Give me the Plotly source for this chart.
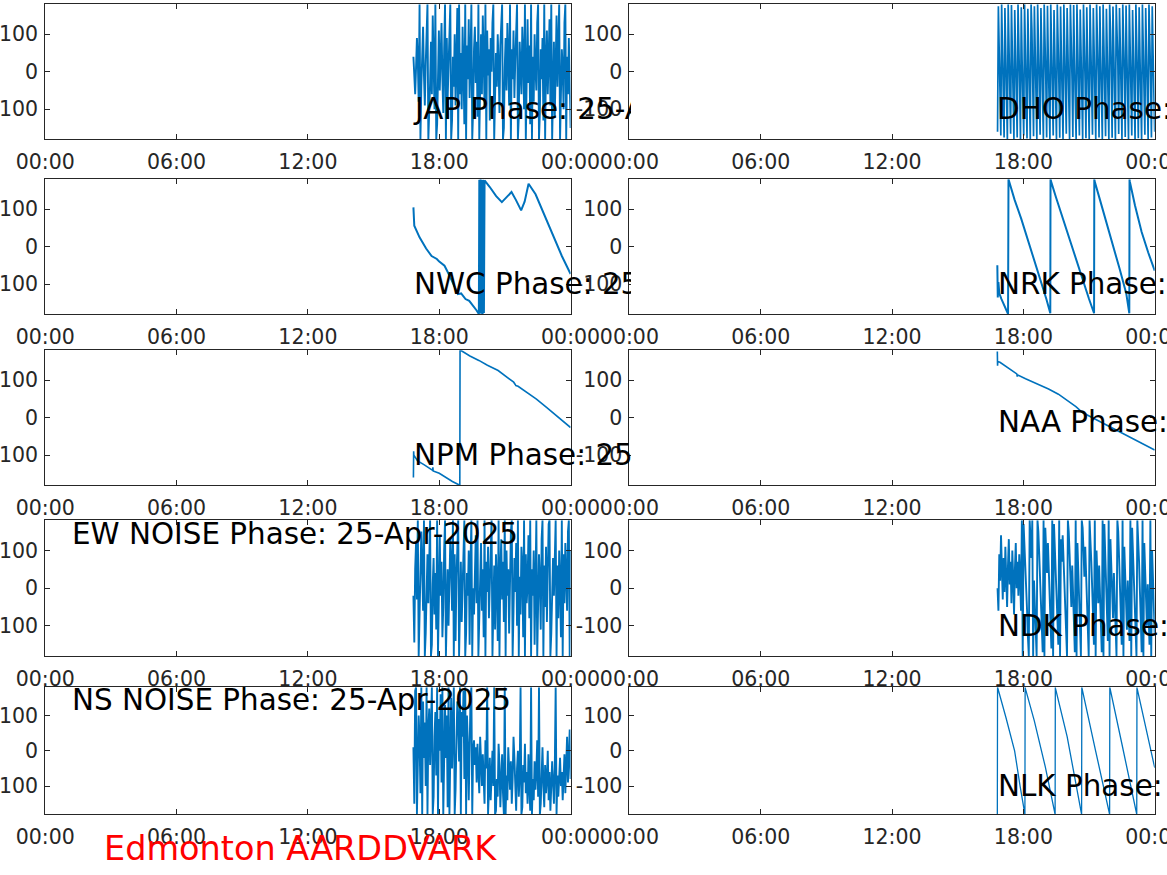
import plotly.graph_objects as go

# ---------------- data ----------------
STATIONS = ["JAP", "DHO", "NWC", "NRK", "NPM", "NAA", "EW NOISE", "NDK", "NS NOISE", "NLK"]
DATE_LABEL = "25-Apr-2025"
FIG_TITLE = "Edmonton AARDDVARK"
TICK_HOURS = [0, 6, 12, 18, 24]
TICK_TEXT = ["00:00", "06:00", "12:00", "18:00", "00:00"]
Y_TICKS = [-100, 0, 100]
Y_RANGE = [-180, 180]
RECORD_START_H = 16.82
RECORD_END_H = 24.0

# noisy phases (regularly sampled between RECORD_START_H and RECORD_END_H)
JAP_PHASE = [
    40, -20, -60, 10, 90, 30, -80, 180, -180, -40,
    60, 120, -10, -90, 20, 140, 180, -180, -120, -30,
    80, -60, 150, 40, -100, 180, -180, -140, 10, 110,
    -50, 70, 130, -20, -110, 60, 180, -180, 90, -70,
    20, 150, 180, -180, -130, 40, -40, 100, -90, 30,
    170, -180, 180, -60, 50, -100, 120, 10, -140, 180,
    -180, 70, -20, 140, -70, 30, 180, -180, -100, 60,
    120, -30, 80, -120, 180, -180, 20, 100, -60, 150,
    40, -90, 180, -180, 110, -10, 60, -130, 90, 0,
    130, 180, -180, -80, 50, -40, 100, 20, -110, 70,
    160, 180, -180, -150, 10, 90, -50, 130, 40, -90,
    180, -180, 60, -20, 110, -70, 30, 150, 180, -180,
    -120, 80, 0, -60, 120, 50, -100, 180, -180, 20,
    140, -30, 70, -140, 180, -180, 40, -80, 100, 10,
    -50, 130, 180, -180, -110, 60, -20, 90, -130, 180,
    -180, 30, 110, -60, 50, 140, -90, 180, -180, -30,
    80, -120, 20, 150, -40, 100, 180, -180, -70, 60,
    10, -100, 130, 180, -180, 40, -60, 90, -20, -150,
]

DHO_PHASE = [
    -160,
    175, 60, -40, -170, 180, 80, -30, -175, 170, 50, -60, -180,
    180, 90, -20, -165, 178, 40, -70, -180, 165, 70, 0, -175,
    180, 100, -40, -180, 172, 30, -55, -170, 180, 85, -10, -178,
    168, 55, -65, -180, 180, 110, -30, -172, 175, 45, -80, -180,
    180, 75, 10, -168, 170, 60, -45, -180, 180, 95, -25, -175,
    176, 35, -60, -180, 180, 80, 5, -170, 165, 50, -50, -180,
    180, 105, -35, -176, 174, 40, -75, -180, 180, 70, 15, -165,
    170, 65, -40, -180, 180, 90, -20, -174, 178, 30, -65, -180,
    180, 85, 0, -170, 166, 55, -55, -180, 180, 100, -30, -177,
    172, 45, -70, -180, 180, 80, 10, -168, 170, 60, -45, -180,
    180, 95, -15, -175, 175, 40, -60, -180, 180, 75, 5, -172,
    168, 50, -50, -180, 180, 110, -25, -176, 174, 35, -80, -180,
    180, 85, 20, -166, 170, 65, -35, -180, 180, 90, -20, -174,
    177, 45, -65, -180, 180, 80, 0, -170, 165, 55, -55, -180,
    180, 100, -30, -177, 172, 40, -70, -180, 180, 70, 10, -168,
    170, 60, -45, -180, 180, 95, -15, -175, 175, 50, -40, -160,
]

EW_NOISE_PHASE = [
    -20, -144, 50, 120, -30, 180, -180, -90, 40, 150,
    60, -60, 180, -180, -120, 20, 90, -40, 130, 180,
    -180, -150, 10, 80, -70, 40, -110, 180, -180, 60,
    140, -20, 70, -130, -50, 100, 180, -180, -30, 50,
    -100, 20, 130, 60, -60, 180, -180, 90, -140, 30,
    110, 180, -180, -40, 70, -90, 10, 150, 180, -180,
    -120, 40, -20, 100, -150, 60, 180, -180, 0, -70,
    80, 140, -40, 180, -180, -100, 30, 120, -60, 50,
    -130, 180, -180, 70, -10, 110, -80, 20, 160, 180,
    -180, -50, 60, -110, 90, 10, -140, 180, -180, 40,
    130, -30, 70, -90, 180, -180, 100, -20, 50, -120,
    20, 150, 180, -180, -60, 80, -10, 120, -100, 180,
    -180, 30, -70, 110, 60, -130, 180, -180, 90, -40,
    10, 140, -80, 180, -180, 50, -20, 100, -150, 70,
    180, -180, -30, 90, 20, -110, 130, 180, -180, 60,
    -50, 110, -90, 40, 170, 180, -180, -120, 30, 80,
    -20, 140, 180, -180, 60, -80, 100, 10, -130, 180,
    -180, 90, -40, 120, 50, -60, 150, 180, -180, 100,
]

NDK_PHASE = [
    0, -60, 90, 20, 140, 50, -30, 80, -10, 110,
    40, -50, 60, 130, 10, 70, -40, 100, 30, -70,
    50, 120, 0, 70, -20, 90, 30, -60, 180, -180,
    170, 120, 60, 0, -60, -130, -180, 180, 140, 80,
    180, -180, 20, -50, -120, -180, 180, 150, 90, 30,
    -40, -110, -170, 180, -180, 160, 100, 40, 120, 60,
    -20, -90, -160, 180, -180, 170, 110, 50, -10, -80,
    -150, 180, -180, 130, 70, 140, 80, 10, -60, -130,
    -180, 180, 150, 90, 20, -50, 60, -10, -90, -170,
    180, -180, 120, 50, -20, -100, -180, 180, 160, 100,
    30, 110, 40, -40, -110, -180, 180, 140, 70, 0,
    -70, -150, 180, -180, 100, 30, -40, 60, -20, -100,
    -170, 180, -180, 170, 100, 20, -60, -140, 180, -180,
    130, 60, -10, -80, 40, -30, -110, -180, 180, 150,
    80, 10, -70, -150, 180, -180, 110, 40, -30, -110,
    20, -60, -140, 180, -180, 160, 90, 20, -50, -130,
    -180, 180, 140, 70, -10, -90, -170, 180, -180, 120,
    50, -20, -100, 10, -70, -150, 180, -180, 100, 30,
    -40, -120,
]

NS_NOISE_PHASE = [
    10, -150, 170, 180, -180, -60, 100, 30, -120, 180,
    -180, 140, -20, 80, -100, 180, -180, 60, 120, -40,
    150, 180, -180, -130, 40, 110, -70, 180, -180, 90,
    0, 160, -90, 180, -180, 50, 130, -20, 100, -160,
    180, -180, 70, 150, -50, 120, 180, -180, -110, 30,
    140, 80, -30, 180, -180, 110, 40, 170, -80, 180,
    -180, 100, 20, -140, 60, 150, 180, -180, 0, 30,
    -40, 10, -90, 20, -60, -120, 40, -30, -100, -10,
    -80, -150, 30, -50, 180, -180, -110, -20, -140, -60,
    0, -100, 180, -180, -170, -80, -130, 20, -40, -160,
    -90, -10, -120, -180, 180, -180, -70, -140, 10, -60,
    -110, -30, -150, -80, 40, -20, -100, -170, -50, 0,
    -130, -70, 180, -180, -160, -40, -90, 20, -120, -60,
    -150, -10, -100, -170, 180, -180, -80, -140, -30, -110,
    -60, 30, -130, 180, -180, -150, -70, 10, -100, -160,
    -40, -120, -80, 0, -140, -60, -170, -100, -30, -90,
    -150, -50, 180, -180, -70, -130, -90, -20, -100, -60,
    -140, -80, -10, -120, -60, 40, -90, 30, 60, -80,
]

# slowly drifting phases (time in hours, phase in degrees)
NWC_T = [16.82, 16.84, 16.86, 17.10, 17.40, 17.65, 17.89, 18.00, 18.10, 18.24,
         18.45, 18.70, 18.85, 19.00, 19.20, 19.37, 19.55, 19.70, 19.81, 19.83,
         19.86, 19.89, 19.92, 19.95, 19.98, 20.01, 20.04, 20.07, 20.30, 20.60,
         20.86, 21.05, 21.30, 21.50, 21.74, 21.90, 22.08, 22.40, 22.80, 23.20,
         23.60, 24.00]
NWC_PHASE = [105, 70, 56, 25, -5, -25, -33, -40, -45, -51,
             -75, -105, -127, -125, -140, -145, -158, -170, -180, 179,
             -178, 180, -179, 178, -180, 179, -177, 177, 160, 135,
             119, 130, 146, 125, 97, 120, 168, 140, 85, 28,
             -25, -73]

NRK_T = [16.81, 16.83, 16.86, 16.90, 17.00, 17.15, 17.30, 17.32, 17.33, 17.60,
         17.90, 18.20, 18.50, 18.80, 19.05, 19.23, 19.24, 19.25, 19.50, 19.80,
         20.10, 20.40, 20.70, 21.00, 21.23, 21.24, 21.25, 21.50, 21.80, 22.10,
         22.40, 22.70, 22.84, 22.85, 22.86, 23.10, 23.40, 23.70, 24.00]
NRK_PHASE = [-50, -136, -95, -125, -140, -160, -180, 180, 178, 125,
             75, 20, -35, -90, -140, -178, 180, 177, 130, 75,
             20, -35, -90, -140, -178, 180, 176, 125, 65, 5,
             -60, -125, -178, 180, 175, 110, 40, -15, -64]

NPM_T = [16.82, 16.83, 16.84, 16.90, 17.01, 17.30, 17.60, 17.70, 17.71, 17.72,
         18.00, 18.30, 18.60, 18.94, 18.95, 19.03, 19.40, 19.81, 20.20, 20.69,
         21.10, 21.40, 21.47, 21.50, 21.60, 22.00, 22.44, 22.90, 23.40, 24.00]
NPM_PHASE = [-159, -89, -100, -105, -115, -125, -137, -140, -132, -142,
             -148, -160, -170, -180, 180, 178, 165, 153, 140, 126,
             108, 95, 89, 86, 84, 68, 50, 28, 4, -26]

NAA_T = [16.81, 16.82, 16.83, 16.93, 17.30, 17.70, 17.72, 17.75, 18.10, 18.47,
         19.15, 19.60, 20.01, 20.40, 20.70, 21.20, 21.72, 22.20, 22.75, 23.30,
         23.95, 24.00]
NAA_PHASE = [177, 139, 150, 148, 132, 117, 110, 114, 104, 95,
             77, 63, 46, 30, 14, -1, -17, -32, -48, -64,
             -84, -86]

NLK_T = [16.81, 16.82, 16.83, 17.20, 17.60, 17.85, 18.07, 18.08, 18.09, 18.50,
         19.00, 19.45, 19.46, 19.47, 20.00, 20.66, 20.67, 20.68, 21.30, 21.94,
         21.95, 21.96, 22.50, 23.18, 23.19, 23.20, 24.00]
NLK_PHASE = [-180, 180, 178, 95, 0, -100, -180, 180, 177, 85,
             -45, -180, 180, 176, 40, -180, 180, 177, 0, -180,
             180, 177, 20, -180, 180, 176, -48]


def sampled(vals):
    n = len(vals)
    step = (RECORD_END_H - RECORD_START_H) / (n - 1)
    return [RECORD_START_H + i * step for i in range(n)], vals


SERIES = {
    "JAP": sampled(JAP_PHASE),
    "DHO": sampled(DHO_PHASE),
    "NWC": (NWC_T, NWC_PHASE),
    "NRK": (NRK_T, NRK_PHASE),
    "NPM": (NPM_T, NPM_PHASE),
    "NAA": (NAA_T, NAA_PHASE),
    "EW NOISE": sampled(EW_NOISE_PHASE),
    "NDK": sampled(NDK_PHASE),
    "NS NOISE": sampled(NS_NOISE_PHASE),
    "NLK": (NLK_T, NLK_PHASE),
}

# ---------------- layout / style ----------------
W, H = 1167, 875
BLUE = "#0072BD"
AXC = "#262626"
FONT = "DejaVu Sans"

COL_PX = [(45.2, 570.6), (629.4, 1154.7)]
ROW_PX = [(4.3, 139.3), (179.3, 314.0), (350.3, 485.3), (520.3, 656.0), (687.3, 814.3)]

LINE_W = {"JAP": 1.9, "DHO": 1.7, "EW NOISE": 1.9, "NDK": 1.9, "NS NOISE": 1.9,
          "NWC": 2.0, "NRK": 2.0, "NPM": 1.6, "NAA": 1.6, "NLK": 1.3}

# label placement (left px, centre px)
LABEL_POS = {
    "JAP": (411.5, 108.5), "DHO": (996, 108.5),
    "NWC": (412.5, 284), "NRK": (996.5, 284),
    "NPM": (412.5, 455), "NAA": (996.5, 422),
    "EW NOISE": (71, 533.5), "NDK": (996.5, 626),
    "NS NOISE": (71, 700), "NLK": (996.5, 786),
}


def fx(px):
    return px / W


def fy(py):
    return 1 - py / H


fig = go.Figure()
layout = dict(
    width=W, height=H, autosize=False,
    margin=dict(l=0, r=0, t=0, b=0, pad=0, autoexpand=False),
    paper_bgcolor="white", plot_bgcolor="white",
    showlegend=False,
    font=dict(family=FONT, color=AXC),
)

annotations = []
for i, name in enumerate(STATIONS):
    r, c = divmod(i, 2)
    k = i + 1
    xs, ys = SERIES[name]
    fig.add_trace(go.Scatter(
        x=xs, y=ys, mode="lines",
        line=dict(color=BLUE, width=LINE_W.get(name, 1.3)),
        xaxis=f"x{k}", yaxis=f"y{k}", hoverinfo="skip", showlegend=False,
    ))
    x0, x1 = COL_PX[c]
    y0, y1 = ROW_PX[r]
    common = dict(
        showline=True, linecolor=AXC, linewidth=1, mirror="ticks",
        ticks="inside", ticklen=5, tickwidth=1, tickcolor=AXC,
        showgrid=False, zeroline=False, automargin=False,
        tickfont=dict(family=FONT, size=20.5, color=AXC),
        ticklabeloverflow="allow",
        fixedrange=True,
    )
    layout[f"xaxis{k}"] = dict(
        common, domain=[fx(x0), fx(x1)], anchor=f"y{k}",
        range=[TICK_HOURS[0], TICK_HOURS[-1]],
        tickmode="array", tickvals=TICK_HOURS, ticktext=TICK_TEXT,
        ticklabelstandoff=4,
    )
    layout[f"yaxis{k}"] = dict(
        common, domain=[fy(y1), fy(y0)], anchor=f"x{k}",
        range=Y_RANGE, tickmode="array", tickvals=Y_TICKS,
        ticktext=[str(v) for v in Y_TICKS],
        ticklabelstandoff=2,
    )

for name in STATIONS:
    lx, ly = LABEL_POS[name]
    annotations.append(dict(
        text=f"{name} Phase: {DATE_LABEL}", xref="paper", yref="paper",
        x=fx(lx), y=fy(ly), xanchor="left", yanchor="middle",
        showarrow=False, borderpad=0,
        font=dict(family=FONT, size=29.4, color="black"),
    ))

# right-hand axes are opaque: hide overflow of left-column labels behind them
for r in range(3):
    cy = LABEL_POS[STATIONS[2 * r]][1]
    annotations.append(dict(
        text=" ", xref="paper", yref="paper",
        x=fx(630.8), y=fy(cy - 24), xanchor="left", yanchor="top",
        width=170, height=48, bgcolor="white", borderpad=0, borderwidth=0,
        showarrow=False,
    ))

annotations.append(dict(
    text=FIG_TITLE, xref="paper", yref="paper",
    x=fx(300), y=fy(848), xanchor="center", yanchor="middle",
    showarrow=False, borderpad=0,
    font=dict(family=FONT, size=33.5, color="#FF0000"),
))

layout["annotations"] = annotations
fig.update_layout(**layout)

fig.write_html(
    "out.html",
    include_plotlyjs=True,
    config={"displayModeBar": False, "staticPlot": True},
    post_script="document.body.style.margin='0px';document.body.style.overflow='hidden';",
)
